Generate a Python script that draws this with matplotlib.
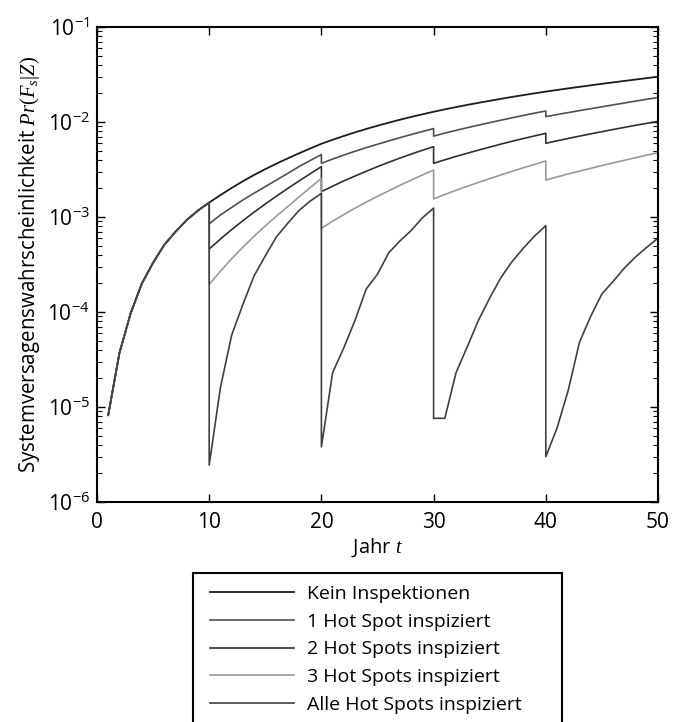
import matplotlib
matplotlib.use("Agg")
import matplotlib.pyplot as plt
from matplotlib.patches import Rectangle
from matplotlib.ticker import LogLocator, FuncFormatter, FixedLocator
import numpy as np

plt.rcParams['font.family'] = ['Open Sans', 'DejaVu Sans']
plt.rcParams['mathtext.fontset'] = 'custom'
plt.rcParams['mathtext.rm'] = 'Liberation Serif'
plt.rcParams['mathtext.it'] = 'Liberation Serif:italic'
plt.rcParams['mathtext.bf'] = 'Liberation Serif:bold'
plt.rcParams['mathtext.sf'] = 'Open Sans'
plt.rcParams['mathtext.default'] = 'it'

# inspection years are listed twice: value just before and just after the inspection
jahre = [1, 2, 3, 4, 5, 6, 7, 8, 9, 10,
         10, 11, 12, 13, 14, 15, 16, 17, 18, 19, 20,
         20, 21, 22, 23, 24, 25, 26, 27, 28, 29, 30,
         30, 31, 32, 33, 34, 35, 36, 37, 38, 39, 40,
         40, 41, 42, 43, 44, 45, 46, 47, 48, 49, 50]

jahre_kein = list(range(1, 51))

kein_inspektion = [8.2e-6, 3.7e-5, 9.7e-5, 2.0e-4, 3.3e-4, 5.1e-4, 7.0e-4, 9.3e-4, 1.17e-3, 1.42e-3,
                   1.70e-3, 2.02e-3, 2.38e-3, 2.77e-3, 3.19e-3, 3.65e-3, 4.14e-3, 4.68e-3, 5.26e-3, 5.90e-3,
                   6.50e-3, 7.13e-3, 7.78e-3, 8.45e-3, 9.14e-3, 9.84e-3, 1.057e-2, 1.130e-2, 1.205e-2, 1.282e-2,
                   1.358e-2, 1.435e-2, 1.514e-2, 1.592e-2, 1.671e-2, 1.754e-2, 1.837e-2, 1.919e-2, 2.005e-2, 2.089e-2,
                   2.173e-2, 2.259e-2, 2.344e-2, 2.432e-2, 2.523e-2, 2.612e-2, 2.704e-2, 2.799e-2, 2.897e-2, 3.00e-2]

ein_hot_spot = [8.2e-6, 3.7e-5, 9.7e-5, 2.0e-4, 3.3e-4, 5.1e-4, 7.0e-4, 9.3e-4, 1.17e-3, 1.42e-3,
                8.5e-4, 1.05e-3, 1.26e-3, 1.51e-3, 1.78e-3, 2.09e-3, 2.45e-3, 2.88e-3, 3.39e-3, 3.93e-3, 4.55e-3,
                3.67e-3, 4.07e-3, 4.49e-3, 4.92e-3, 5.37e-3, 5.83e-3, 6.32e-3, 6.84e-3, 7.38e-3, 7.94e-3, 8.53e-3,
                7.10e-3, 7.64e-3, 8.17e-3, 8.71e-3, 9.27e-3, 9.84e-3, 1.045e-2, 1.107e-2, 1.172e-2, 1.239e-2, 1.306e-2,
                1.14e-2, 1.197e-2, 1.256e-2, 1.318e-2, 1.380e-2, 1.445e-2, 1.514e-2, 1.585e-2, 1.660e-2, 1.734e-2, 1.811e-2]

zwei_hot_spots = [8.2e-6, 3.7e-5, 9.7e-5, 2.0e-4, 3.3e-4, 5.1e-4, 7.0e-4, 9.3e-4, 1.17e-3, 1.42e-3,
                  4.6e-4, 5.86e-4, 7.36e-4, 9.14e-4, 1.125e-3, 1.371e-3, 1.66e-3, 2.00e-3, 2.39e-3, 2.85e-3, 3.39e-3,
                  1.85e-3, 2.11e-3, 2.40e-3, 2.70e-3, 3.03e-3, 3.39e-3, 3.77e-3, 4.17e-3, 4.59e-3, 5.04e-3, 5.50e-3,
                  3.67e-3, 4.00e-3, 4.34e-3, 4.69e-3, 5.06e-3, 5.44e-3, 5.85e-3, 6.27e-3, 6.70e-3, 7.14e-3, 7.60e-3,
                  5.97e-3, 6.34e-3, 6.71e-3, 7.10e-3, 7.50e-3, 7.91e-3, 8.34e-3, 8.77e-3, 9.23e-3, 9.68e-3, 1.016e-2]

drei_hot_spots = [8.2e-6, 3.7e-5, 9.7e-5, 2.0e-4, 3.3e-4, 5.1e-4, 7.0e-4, 9.3e-4, 1.17e-3, 1.42e-3,
                  1.95e-4, 2.69e-4, 3.63e-4, 4.81e-4, 6.27e-4, 8.05e-4, 1.023e-3, 1.288e-3, 1.622e-3, 2.04e-3, 2.55e-3,
                  7.6e-4, 9.04e-4, 1.062e-3, 1.239e-3, 1.435e-3, 1.652e-3, 1.888e-3, 2.153e-3, 2.443e-3, 2.767e-3, 3.126e-3,
                  1.55e-3, 1.726e-3, 1.910e-3, 2.104e-3, 2.312e-3, 2.535e-3, 2.773e-3, 3.027e-3, 3.296e-3, 3.581e-3, 3.890e-3,
                  2.45e-3, 2.64e-3, 2.84e-3, 3.04e-3, 3.25e-3, 3.48e-3, 3.71e-3, 3.95e-3, 4.21e-3, 4.48e-3, 4.75e-3]

alle_hot_spots = [8.2e-6, 3.7e-5, 9.7e-5, 2.0e-4, 3.3e-4, 5.1e-4, 7.0e-4, 9.3e-4, 1.17e-3, 1.42e-3,
                  2.45e-6, 1.6e-5, 5.7e-5, 1.2e-4, 2.4e-4, 3.9e-4, 6.2e-4, 8.6e-4, 1.17e-3, 1.47e-3, 1.77e-3,
                  3.8e-6, 2.3e-5, 4.2e-5, 8.2e-5, 1.75e-4, 2.5e-4, 4.2e-4, 5.6e-4, 7.2e-4, 9.8e-4, 1.24e-3,
                  7.6e-6, 7.6e-6, 2.3e-5, 4.3e-5, 8.2e-5, 1.4e-4, 2.3e-4, 3.4e-4, 4.7e-4, 6.3e-4, 8.1e-4,
                  3.0e-6, 6.0e-6, 1.5e-5, 4.8e-5, 9.0e-5, 1.55e-4, 2.1e-4, 2.9e-4, 3.8e-4, 4.8e-4, 6.0e-4]

legend_labels = ["Kein Inspektionen",
                 "1 Hot Spot inspiziert",
                 "2 Hot Spots inspiziert",
                 "3 Hot Spots inspiziert",
                 "Alle Hot Spots inspiziert"]

x_ticks = [0, 10, 20, 30, 40, 50]

W, H = 684, 722
fig = plt.figure(figsize=(W / 100, H / 100), dpi=100)
ax = fig.add_axes([97 / W, 1 - 502 / H, (658 - 97) / W, (502 - 27) / H])

lw = 1.2
l0, = ax.semilogy(jahre_kein, kein_inspektion, color='#1c1c1c', lw=lw + 0.1)
l1, = ax.semilogy(jahre, ein_hot_spot, color='#505050', lw=lw)
l2, = ax.semilogy(jahre, zwei_hot_spots, color='#303030', lw=lw)
l3, = ax.semilogy(jahre, drei_hot_spots, color='#999999', lw=lw)
l4, = ax.semilogy(jahre, alle_hot_spots, color='#404040', lw=lw)

ax.set_xlim(0, 50)
ax.set_ylim(1e-6, 1e-1)
ax.xaxis.set_major_locator(FixedLocator(x_ticks))
ax.yaxis.set_major_locator(LogLocator(base=10, numticks=10))
ax.yaxis.set_minor_locator(LogLocator(base=10, subs=range(2, 10), numticks=20))


def dekade(v, pos):
    return r'$\mathsf{10^{%d}}$' % int(round(np.log10(v)))


ax.yaxis.set_major_formatter(FuncFormatter(dekade))
ax.tick_params(which='both', direction='in', top=True, right=True, labelsize=15)
ax.tick_params(which='major', length=6, width=1.0)
ax.tick_params(which='minor', length=3.5, width=0.8)
ax.tick_params(axis='x', pad=7)
ax.tick_params(axis='y', pad=5)
for sp in ax.spines.values():
    sp.set_linewidth(1.5)

ax.set_xlabel(r"Jahr $t$", fontsize=14.5, labelpad=3)
ax.set_ylabel(r"Systemversagenswahrscheinlichkeit $Pr(F_s|Z)$", fontsize=14.8, labelpad=4)

leg = fig.legend([l0, l1, l2, l3, l4], legend_labels,
                 loc='upper left', bbox_to_anchor=(210 / W, 1 - 585 / H),
                 frameon=False, fontsize=14, handlelength=4.3, handletextpad=0.7,
                 labelspacing=0.5, borderpad=0, borderaxespad=0)

fig.patches.append(Rectangle((193 / W, -0.02), (562 - 193) / W, 0.02 + 1 - 573 / H,
                             transform=fig.transFigure, fill=False,
                             edgecolor='black', linewidth=1.5))

fig.savefig("out.png", dpi=100)
